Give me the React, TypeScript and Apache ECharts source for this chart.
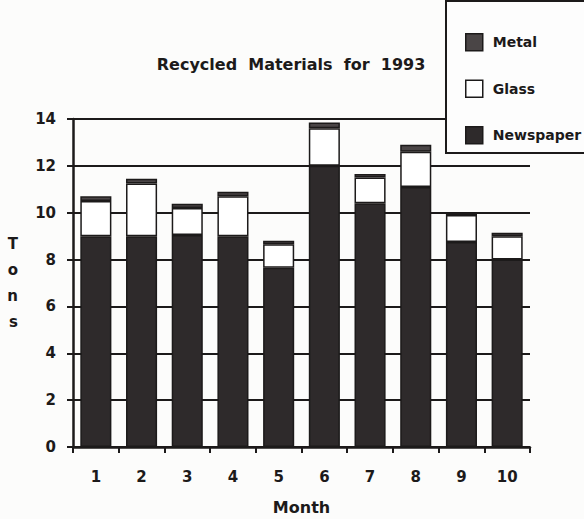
import React, { useEffect, useRef } from "react";
import * as echarts from "echarts";

const months = ["1", "2", "3", "4", "5", "6", "7", "8", "9", "10"];
const newspaper = [9.0, 9.0, 9.05, 9.0, 7.65, 12.0, 10.4, 11.1, 8.75, 8.0];
const glass = [1.5, 2.25, 1.15, 1.7, 1.0, 1.6, 1.1, 1.5, 1.15, 1.0];
const metal = [0.2, 0.2, 0.18, 0.2, 0.15, 0.25, 0.15, 0.3, 0.1, 0.15];
const yTicks = { min: 0, max: 14, interval: 2 };

const FONT = "DejaVu Sans";
const INK = "#1c1a1a";

export default function App() {
  const ref = useRef<HTMLDivElement>(null);
  useEffect(() => {
    if (!ref.current) return;
    const chart = echarts.init(ref.current, null, { renderer: "svg" });
    const barBase = {
      type: "bar",
      stack: "total",
      barWidth: "68%",
      itemStyle: { borderColor: INK, borderWidth: 1.5 },
    };
    chart.setOption({
      animation: false,
      backgroundColor: "#fcfcfb",
      textStyle: { fontFamily: FONT },
      title: {
        text: "Recycled  Materials  for  1993",
        left: 286,
        textAlign: "center",
        top: 51,
        textStyle: { fontFamily: FONT, fontWeight: "bold", fontSize: 16, color: INK },
      },
      graphic: [
        {
          type: "rect",
          z: 10,
          shape: { x: 446, y: 1, width: 150, height: 152 },
          style: { fill: "#fdfdfd", stroke: INK, lineWidth: 2 },
        },
      ],
      legend: {
        z: 20,
        orient: "vertical",
        left: 460,
        top: 28,
        icon: "rect",
        itemWidth: 17,
        itemHeight: 17,
        itemGap: 28,
        data: ["Metal", "Glass", "Newspaper"],
        itemStyle: { borderColor: INK, borderWidth: 1.5 },
        textStyle: { fontFamily: FONT, fontWeight: "bold", fontSize: 14, color: INK, padding: [0, 0, 0, 5] },
      },
      grid: { left: 73, right: 54, top: 119, bottom: 72, outerBoundsMode: "none", containLabel: false },
      xAxis: {
        type: "category",
        data: months,
        name: "Month",
        nameLocation: "middle",
        nameGap: 52,
        nameTextStyle: { fontFamily: FONT, fontWeight: "bold", fontSize: 16, color: INK },
        axisLine: { lineStyle: { color: INK, width: 2.5 } },
        axisTick: { show: true, alignWithLabel: false, length: 6, lineStyle: { color: INK, width: 2 } },
        axisLabel: { margin: 22, fontFamily: FONT, fontWeight: "bold", fontSize: 15, color: INK },
      },
      yAxis: {
        type: "value",
        min: yTicks.min,
        max: yTicks.max,
        interval: yTicks.interval,
        name: "T\no\nn\ns",
        nameLocation: "middle",
        nameRotate: 0,
        nameGap: 55,
        nameTextStyle: { fontFamily: FONT, fontWeight: "bold", fontSize: 15, lineHeight: 26, color: INK },
        axisLine: { show: true, lineStyle: { color: INK, width: 2.5 } },
        axisTick: { show: true, length: 6, lineStyle: { color: INK, width: 2 } },
        axisLabel: { margin: 17, fontFamily: FONT, fontWeight: "bold", fontSize: 15, color: INK },
        splitLine: { show: true, lineStyle: { color: INK, width: 2 } },
      },
      series: [
        { ...barBase, name: "Newspaper", data: newspaper, itemStyle: { ...barBase.itemStyle, color: "#2e2a2b" } },
        { ...barBase, name: "Glass", data: glass, itemStyle: { ...barBase.itemStyle, color: "#ffffff" } },
        { ...barBase, name: "Metal", data: metal, itemStyle: { ...barBase.itemStyle, color: "#4a4546" } },
      ],
    });
    return () => chart.dispose();
  }, []);
  return (
    <div
      ref={ref}
      style={{ position: "fixed", left: 0, top: 0, width: 584, height: 519 }}
    />
  );
}
